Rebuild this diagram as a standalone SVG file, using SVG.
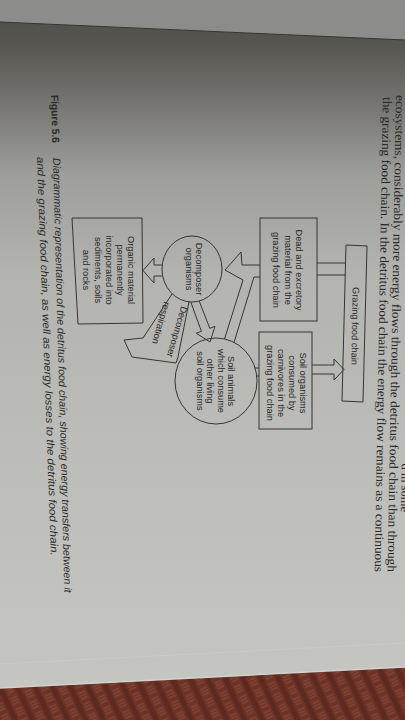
<svg xmlns="http://www.w3.org/2000/svg" width="405" height="720" viewBox="0 0 405 720">
<style>
.ln{fill:none;stroke:#353535;stroke-width:1}
.lbl{font-family:"Liberation Sans",Arial,sans-serif;font-size:9.3px;fill:#262626;text-anchor:middle}
.body{font-family:"Liberation Serif","Times New Roman",serif;font-size:12.5px;fill:#262626}
.cap{font-family:"Liberation Sans",Arial,sans-serif;font-size:10.5px;fill:#2a2a2a;font-style:italic}
.capb{font-family:"Liberation Sans",Arial,sans-serif;font-size:10.5px;fill:#2a2a2a;font-weight:bold}
</style>
<defs>
<linearGradient id="page" x1="0" y1="0" x2="0" y2="1">
<stop offset="0" stop-color="#4f4d4a"/>
<stop offset="0.06" stop-color="#57554f"/>
<stop offset="0.14" stop-color="#747370"/>
<stop offset="0.24" stop-color="#9d9d9a"/>
<stop offset="0.38" stop-color="#b3b3b0"/>
<stop offset="0.65" stop-color="#bdbdba"/>
<stop offset="1" stop-color="#c6c6c3"/>
</linearGradient>
<pattern id="cloth" width="16" height="12" patternUnits="userSpaceOnUse" patternTransform="rotate(-25)">
<rect width="16" height="12" fill="#6e3227"/>
<path d="M2 2h7M2 5h7M2 8h7" stroke="#a9795a" stroke-width="0.8" opacity="0.55"/>
<rect x="11" y="0" width="5" height="12" fill="#52241c" opacity="0.6"/>
</pattern>
</defs>
<rect width="405" height="720" fill="url(#page)"/>
<polygon points="0,0 405,0 405,40 0,22" fill="#8c8c8a"/>
<polyline points="0,22 405,40" class="ln" stroke="#2f2f2f"/>
<polygon points="0,688 405,667 405,720 0,720" fill="url(#cloth)"/>
<polyline points="0,688 405,667" fill="none" stroke="#d2d2cf" stroke-width="1.5"/>
<polyline points="0,664 405,643" fill="none" stroke="#cfcfcc" stroke-width="1" opacity="0.6"/>

<g id="page-text">
<text class="body" transform="translate(401,512) rotate(91)" text-anchor="end">d in some</text>
<text class="body" transform="translate(396,95) rotate(91)" textLength="477" lengthAdjust="spacingAndGlyphs">ecosystems, considerably more energy flows through the detritus food chain than through</text>
<text class="body" transform="translate(383,97) rotate(91)" textLength="475" lengthAdjust="spacingAndGlyphs">the grazing food chain. In the detritus food chain the energy flow remains as a continuous</text>
<text class="capb" transform="translate(51,95) rotate(88.5)" textLength="48" lengthAdjust="spacingAndGlyphs">Figure 5.6</text>
<text class="cap" transform="translate(53,158) rotate(88.5)" textLength="435" lengthAdjust="spacingAndGlyphs">Diagrammatic representation of the detritus food chain, showing energy transfers between it</text>
<text class="cap" transform="translate(37,157) rotate(88)" textLength="399" lengthAdjust="spacingAndGlyphs">and the grazing food chain, as well as energy losses to the detritus food chain.</text>
</g>

<g id="connectors">
<polyline class="ln" points="317,263 345.5,263"/>
<polyline class="ln" points="317,275 345.2,275"/>
<polyline class="ln" points="312,365 334,365 334,359 344,369.5 334,380 334,374 312,374"/>
<polyline class="ln" points="255.1,368 259,368"/>
<polyline class="ln" points="256.7,376 259,376"/>
<polyline class="ln" points="260,265 242,265 241,252 225,270 243,280 224.5,339"/>
<polyline class="ln" points="234,342.5 254,277 260,277"/>
<polyline class="ln" points="162.2,265 154,265 154,258 143,270.5 154,283 154,276 162.2,276"/>
<polyline class="ln" points="190.8,302 201.4,331.3 196.2,333.2 210,342 215,326.4 209.8,328.3 199.2,301"/>
<polyline class="ln" points="172,294 143,338 124,340 132,357 176,363 178,357 189,302"/>
<text class="lbl" transform="translate(174,331) rotate(106)">Decomposer</text>
<text class="lbl" transform="translate(158,322) rotate(106)">respiration</text>
</g>

<g id="grazing">
<polygon class="ln" points="346,245 367,246 363,402 342,401"/>
<text class="lbl" transform="translate(352,326) rotate(91)">Grazing food chain</text>
</g>
<g id="dead">
<rect class="ln" x="260" y="218" width="57" height="103"/>
<text class="lbl" transform="translate(296,270) rotate(90)">Dead and excretory</text>
<text class="lbl" transform="translate(285,270) rotate(90)">material from the</text>
<text class="lbl" transform="translate(273,270) rotate(90)">grazing food chain</text>
</g>
<g id="soilorg">
<rect class="ln" x="259" y="332" width="53" height="97"/>
<text class="lbl" transform="translate(300,383) rotate(90)">Soil organisms</text>
<text class="lbl" transform="translate(289,383) rotate(90)">consumed by</text>
<text class="lbl" transform="translate(278,383) rotate(90)">carnivores in the</text>
<text class="lbl" transform="translate(267,383) rotate(90)">grazing food chain</text>
</g>
<g id="decomposer">
<ellipse class="ln" cx="192" cy="269" rx="30" ry="33"/>
<text class="lbl" transform="translate(196,269) rotate(90)">Decomposer</text>
<text class="lbl" transform="translate(186,269) rotate(90)">organisms</text>
</g>
<g id="soilanimals">
<ellipse class="ln" cx="216" cy="381" rx="41" ry="43"/>
<text class="lbl" transform="translate(227.5,381) rotate(90)">Soil animals</text>
<text class="lbl" transform="translate(217.5,381) rotate(90)">which consume</text>
<text class="lbl" transform="translate(206.5,381) rotate(90)">other living</text>
<text class="lbl" transform="translate(196.5,381) rotate(90)">soil organisms</text>
</g>
<g id="organic">
<polygon class="ln" points="72,218 142,218 143,323 78,324"/>
<text class="lbl" transform="translate(128,270) rotate(90)">Organic material</text>
<text class="lbl" transform="translate(117,270) rotate(90)">permanently</text>
<text class="lbl" transform="translate(106,270) rotate(90)">incorporated into</text>
<text class="lbl" transform="translate(95,270) rotate(90)">sediments, soils</text>
<text class="lbl" transform="translate(83,270) rotate(90)">and rocks</text>
</g>
</svg>
